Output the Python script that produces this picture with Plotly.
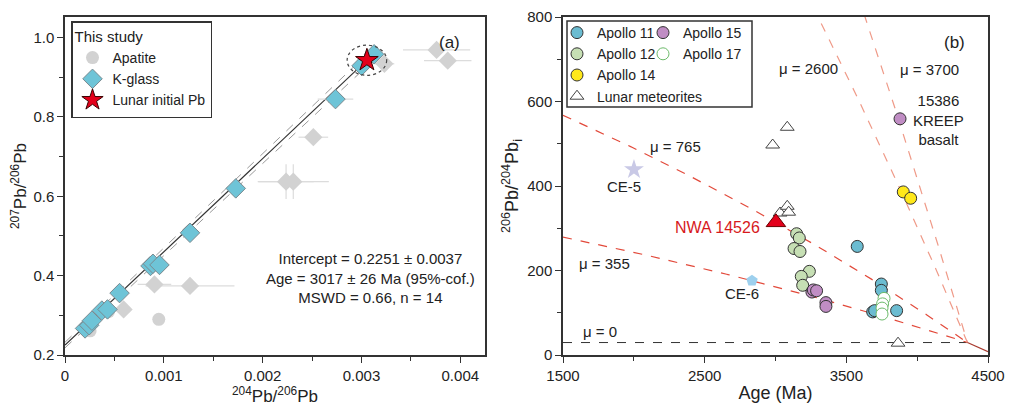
import numpy as np
import plotly.graph_objects as go

# --- Panel (a): 207Pb/206Pb vs 204Pb/206Pb ---
kglass_x = [0.000203, 0.000245, 0.000272, 0.000373, 0.00043, 0.000552, 0.000865,
            0.00089, 0.000956, 0.001265, 0.001728, 0.002737, 0.003001, 0.003128]
kglass_y = [0.267, 0.275, 0.2865, 0.312, 0.315, 0.356, 0.4245,
            0.430, 0.427, 0.508, 0.620, 0.845, 0.929, 0.958]
kglass_ex = [0, 0, 0, 0, 0, 0, 0, 0, 0, 0, 0, 0.00018, 0, 0]

apatite_circ_x = [0.000254, 0.00044, 0.000949]
apatite_circ_y = [0.261, 0.309, 0.290]

apatite_dia_x = [0.000593, 0.000905, 0.001265, 0.002237, 0.00231, 0.002513, 0.003232, 0.00376, 0.003873]
apatite_dia_y = [0.315, 0.378, 0.374, 0.637, 0.637, 0.749, 0.934, 0.969, 0.942]
apatite_dia_ex = [0.00004, 0.00017, 0.00045, 0.00028, 0.00036, 0.00015, 0.00010, 0.00034, 0.00024]
apatite_dia_ey = [0.004, 0.004, 0.02, 0.044, 0.044, 0.004, 0.004, 0.004, 0.004]

lunar_pb_x = [0.003055]
lunar_pb_y = [0.943]

intercept = 0.2251
slope = 235.0
envelope_lo = 0.007    # half-width of error envelope at x = 0
envelope_gain = 2.7    # growth of half-width with x
line_end_x = 0.00312

# --- Panel (b): 206Pb/204Pb initial vs age ---
apollo11_age = [3577, 3747, 3747, 3686, 3700, 3855]
apollo11_pb = [257, 168, 153, 102, 105, 105]
apollo12_age = [3149, 3168, 3131, 3173, 3239, 3182, 3192]
apollo12_pb = [287, 277, 252, 245, 198, 186, 165]
apollo14_age = [3902, 3954]
apollo14_pb = [386, 371]
apollo15_age = [3879, 3257, 3267, 3290, 3356, 3356]
apollo15_pb = [559, 149, 154, 152, 124, 115]
apollo17_age = [3766, 3756, 3752, 3752]
apollo17_pb = [134, 121, 111, 97]
meteorite_age = [2980, 3083, 3032, 3083, 3093, 3865]
meteorite_pb = [497, 539, 336, 352, 338, 28]
nwa_age, nwa_pb = [3003], [314]
ce5_age, ce5_pb = [2001], [439]
ce6_age, ce6_pb = [2834], [176]

mu_values = [355, 765, 2600, 3700]
LAMBDA_238 = 1.55125e-4   # 1/Ma
T0 = 4355                 # Ma, start of growth
PB_INIT = 29.5            # initial 206Pb/204Pb
tail_end_pb = 8

FONT = "Liberation Sans, Arial, sans-serif"
INK = "#222222"
W, H = 1025, 420
OFF = 8  # page margin of the html body


def px(v):
    return (v - OFF) / W


def py(v):
    return 1 - (v - OFF) / H


fig = go.Figure()

# ---- (a) regression line and envelope ----
xs = np.linspace(0, line_end_x, 50)
yfit = intercept + slope * xs
half = envelope_lo + envelope_gain * xs
for sign in (1, -1):
    fig.add_trace(go.Scatter(x=xs, y=yfit + sign * half, mode="lines",
                             line=dict(color="#9a9a9a", width=1, dash="dash"),
                             showlegend=False, hoverinfo="skip", xaxis="x", yaxis="y"))
fig.add_trace(go.Scatter(x=xs, y=yfit, mode="lines", line=dict(color="#333333", width=1.2),
                         showlegend=False, hoverinfo="skip", xaxis="x", yaxis="y"))

fig.add_trace(go.Scatter(
    x=apatite_dia_x, y=apatite_dia_y, mode="markers",
    marker=dict(symbol="diamond", size=14, color="#d2d2d2"),
    error_x=dict(type="data", array=apatite_dia_ex, color="#dcdcdc", thickness=1.2, width=0),
    error_y=dict(type="data", array=apatite_dia_ey, color="#dcdcdc", thickness=1.2, width=0),
    showlegend=False, xaxis="x", yaxis="y"))
fig.add_trace(go.Scatter(
    x=apatite_circ_x, y=apatite_circ_y, mode="markers", name="Apatite",
    marker=dict(symbol="circle", size=13, color="#d2d2d2"),
    legend="legend", xaxis="x", yaxis="y"))
fig.add_trace(go.Scatter(
    x=kglass_x, y=kglass_y, mode="markers", name="K-glass",
    marker=dict(symbol="diamond", size=15, color="#6ec4d7", line=dict(color="#7a8a90", width=1)),
    error_x=dict(type="data", array=kglass_ex, color="#dcdcdc", thickness=1.2, width=0),
    legend="legend", xaxis="x", yaxis="y"))
fig.add_trace(go.Scatter(
    x=lunar_pb_x, y=lunar_pb_y, mode="markers", name="Lunar initial Pb",
    marker=dict(symbol="star", size=17, color="#e3001b", line=dict(color="#3a0000", width=1)),
    legend="legend", xaxis="x", yaxis="y"))

# ---- (b) growth curves ----
ages = np.linspace(1500, T0, 300)
fig.add_trace(go.Scatter(x=[1500, T0], y=[PB_INIT, PB_INIT], mode="lines",
                         line=dict(color="#333333", width=1, dash="dash"),
                         showlegend=False, hoverinfo="skip", xaxis="x2", yaxis="y2"))
for mu in mu_values:
    pb = PB_INIT + mu * (np.exp(LAMBDA_238 * T0) - np.exp(LAMBDA_238 * ages))
    col = "#e2493a" if mu < 1000 else "#ef9a88"
    fig.add_trace(go.Scatter(x=ages, y=pb, mode="lines",
                             line=dict(color=col, width=1.2, dash="dash"),
                             showlegend=False, hoverinfo="skip", xaxis="x2", yaxis="y2"))
fig.add_trace(go.Scatter(x=[T0, 4500], y=[PB_INIT, tail_end_pb], mode="lines",
                         line=dict(color="#a83a2e", width=1.2),
                         showlegend=False, hoverinfo="skip", xaxis="x2", yaxis="y2"))

outline = dict(color="#333333", width=1)
groups = [
    ("Apollo 11", apollo11_age, apollo11_pb, "circle", "#6bbcd1", outline, "legend3"),
    ("Apollo 12", apollo12_age, apollo12_pb, "circle", "#c6dfb4", outline, "legend3"),
    ("Apollo 14", apollo14_age, apollo14_pb, "circle", "#ffe81a", outline, "legend3"),
    ("Lunar meteorites", meteorite_age, meteorite_pb, "triangle-up", "white",
     dict(color="#444444", width=1), "legend3"),
    ("Apollo 15", apollo15_age, apollo15_pb, "circle", "#c08dc4", outline, "legend4"),
    ("Apollo 17", apollo17_age, apollo17_pb, "circle", "white",
     dict(color="#6dbb6b", width=1), "legend4"),
]
for name, gx, gy, sym, colr, ln, leg in groups:
    fig.add_trace(go.Scatter(x=gx, y=gy, mode="markers", name=name,
                             marker=dict(symbol=sym, size=12, color=colr, line=ln),
                             legend=leg, xaxis="x2", yaxis="y2"))

fig.add_trace(go.Scatter(x=nwa_age, y=nwa_pb, mode="markers",
                         marker=dict(symbol="triangle-up", size=17, color="#e3001b",
                                     line=dict(color="#6a0000", width=1)),
                         showlegend=False, xaxis="x2", yaxis="y2"))
fig.add_trace(go.Scatter(x=ce5_age, y=ce5_pb, mode="markers",
                         marker=dict(symbol="star", size=15, color="#c9c9e6"),
                         showlegend=False, xaxis="x2", yaxis="y2"))
fig.add_trace(go.Scatter(x=ce6_age, y=ce6_pb, mode="markers",
                         marker=dict(symbol="pentagon", size=12, color="#9dd0ee"),
                         showlegend=False, xaxis="x2", yaxis="y2"))

# ---- axes ----
ax_common = dict(showline=True, mirror=True, linecolor="#333333", linewidth=1.5,
                 ticks="outside", ticklen=6, tickwidth=1.3, tickcolor="#333333",
                 showgrid=False, zeroline=False, automargin=False,
                 tickfont=dict(family=FONT, size=15, color=INK))
minor_common = dict(ticks="outside", ticklen=4, tickwidth=1.2, tickcolor="#333333", showgrid=False)

fig.update_layout(
    width=W, height=H,
    margin=dict(l=0, r=0, t=0, b=0, autoexpand=False),
    paper_bgcolor="white", plot_bgcolor="white",
    font=dict(family=FONT, color=INK),
    xaxis=dict(domain=[px(65), px(485)], range=[0, 0.00425], anchor="y",
               tickmode="array", tickvals=[0, 0.001, 0.002, 0.003, 0.004],
               ticktext=["0", "0.001", "0.002", "0.003", "0.004"],
               minor=dict(tickmode="linear", tick0=0, dtick=0.0005, **minor_common),
               title=dict(text="<sup>204</sup>Pb/<sup>206</sup>Pb", standoff=2,
                          font=dict(family=FONT, size=17, color=INK)),
               **ax_common),
    yaxis=dict(domain=[py(355), py(17)], range=[0.2, 1.052], anchor="x",
               tick0=0.2, dtick=0.2, tickformat=".1f",
               minor=dict(tick0=0.2, dtick=0.1, **minor_common),
               title=dict(text="<sup>207</sup>Pb/<sup>206</sup>Pb", standoff=4,
                          font=dict(family=FONT, size=17, color=INK)),
               **ax_common),
    xaxis2=dict(domain=[px(563), px(988)], range=[1500, 4500], anchor="y2",
                tick0=1500, dtick=1000,
                minor=dict(tick0=1500, dtick=500, **minor_common),
                title=dict(text="Age (Ma)", standoff=4, font=dict(family=FONT, size=18, color=INK)),
                **ax_common),
    yaxis2=dict(domain=[py(355), py(17)], range=[0, 800], anchor="x2",
                tick0=0, dtick=200,
                minor=dict(tick0=0, dtick=100, **minor_common),
                title=dict(text="<sup>206</sup>Pb/<sup>204</sup>Pb<sub>i</sub>", standoff=4,
                           font=dict(family=FONT, size=18, color=INK)),
                **ax_common),
    legend=dict(x=px(71), y=py(21), xanchor="left", yanchor="top",
                bgcolor="white", bordercolor="#333333", borderwidth=1.5,
                title=dict(text="This study", font=dict(family=FONT, size=15, color=INK)),
                font=dict(family=FONT, size=14, color=INK), tracegroupgap=0),
    legend3=dict(x=px(557), y=py(17), xanchor="left", yanchor="top",
                 bgcolor="rgba(0,0,0,0)", borderwidth=0,
                 font=dict(family=FONT, size=14, color=INK), tracegroupgap=0),
    legend4=dict(x=px(643), y=py(17), xanchor="left", yanchor="top",
                 bgcolor="rgba(0,0,0,0)", borderwidth=0,
                 font=dict(family=FONT, size=14, color=INK), tracegroupgap=0),
    showlegend=True,
)

# legend frame for panel (b)
fig.add_shape(type="rect", xref="paper", yref="paper",
              x0=px(567), x1=px(752), y0=py(107), y1=py(21),
              line=dict(color="#333333", width=1.5), fillcolor="rgba(0,0,0,0)", layer="above")

# dotted ellipse around the lunar initial Pb cluster
rx, ry = 0.0002, 0.038
fig.add_shape(type="circle", xref="x", yref="y",
              x0=lunar_pb_x[0] - rx, x1=lunar_pb_x[0] + rx,
              y0=lunar_pb_y[0] - ry, y1=lunar_pb_y[0] + ry,
              line=dict(color="#444444", width=1.2, dash="dot"))

notes = [
    ("x domain", "y domain", 0.945, 0.96, "(a)", 17, INK),
    ("x2 domain", "y2 domain", 0.95, 0.96, "(b)", 17, INK),
    ("x", "y", 0.00309, 0.395,
     "Intercept = 0.2251 ± 0.0037<br>Age = 3017 ± 26 Ma (95%-cof.)<br>MSWD = 0.66, n = 14", 15, INK),
    ("x2", "y2", 3232, 679, "μ = 2600", 15, INK),
    ("x2", "y2", 4086, 676, "μ = 3700", 15, INK),
    ("x2", "y2", 2291, 494, "μ = 765", 15, INK),
    ("x2", "y2", 1796, 217, "μ = 355", 15, INK),
    ("x2", "y2", 1761, 55, "μ = 0", 15, INK),
    ("x2", "y2", 4149, 556, "15386<br>KREEP<br>basalt", 15, INK),
    ("x2", "y2", 1931, 400, "CE-5", 15, INK),
    ("x2", "y2", 2594, 301, "NWA 14526", 16, "#d7191c"),
    ("x2", "y2", 2761, 145, "CE-6", 15, INK),
]
for xr, yr, xv, yv, txt, sz, colr in notes:
    fig.add_annotation(xref=xr, yref=yr, x=xv, y=yv, text=txt, showarrow=False,
                       font=dict(family=FONT, size=sz, color=colr), align="center")

fig.write_html("out.html")
